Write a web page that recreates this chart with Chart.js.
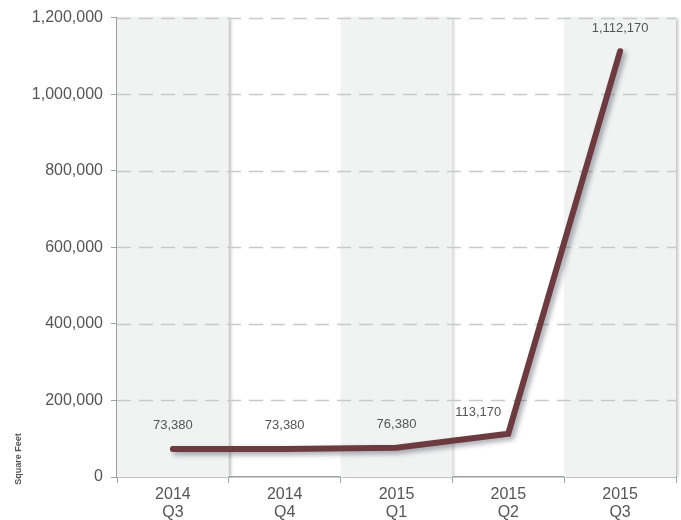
<!DOCTYPE html>
<html>
<head>
<meta charset="utf-8">
<script src="https://cdn.jsdelivr.net/npm/chart.js@4/dist/chart.umd.min.js"></script>
<style>
  html, body { margin: 0; padding: 0; background: #fff; }
  #wrap { width: 681px; height: 520px; position: relative; }
</style>
</head>
<body>
<div id="wrap"><canvas id="sqftChart"></canvas></div>
<script>
const quarters = [["2014", "Q3"], ["2014", "Q4"], ["2015", "Q1"], ["2015", "Q2"], ["2015", "Q3"]];
const squareFeet = [73380, 73380, 76380, 113170, 1112170];
const yTicks = [0, 200000, 400000, 600000, 800000, 1000000, 1200000];

const fmt = (v) => v.toLocaleString("en-US");
const FONT = "'Liberation Sans', Arial, sans-serif";

// alternating grey columns behind the plot
const bandsPlugin = {
  id: "bands",
  beforeDatasetsDraw(chart) {
    const { ctx, chartArea, scales } = chart;
    const x = scales.x;
    const w = x.width / quarters.length;
    ctx.save();
    for (let i = 0; i < quarters.length; i += 2) {
      const left = x.left + i * w;
      ctx.shadowColor = "rgba(0,0,0,0.25)";
      ctx.shadowBlur = 3;
      ctx.shadowOffsetX = 2;
      ctx.fillStyle = "#f1f2f2";
      ctx.fillRect(left, chartArea.top, w, chartArea.bottom - chartArea.top);
    }
    ctx.restore();
    // redraw the dashed grid over the bands
    ctx.save();
    ctx.strokeStyle = "#c9c9c9";
    ctx.lineWidth = 1.5;
    ctx.setLineDash([14, 8]);
    yTicks.slice(1).forEach((t) => {
      const y = Math.round(scales.y.getPixelForValue(t)) + 0.5;
      ctx.beginPath();
      ctx.moveTo(chartArea.left, y);
      ctx.lineTo(chartArea.right, y);
      ctx.stroke();
    });
    ctx.restore();
  },
};

// drop shadow under the line
const shadowPlugin = {
  id: "lineShadow",
  beforeDatasetsDraw(chart) {
    const ctx = chart.ctx;
    ctx.save();
    ctx.shadowColor = "rgba(60,60,80,0.45)";
    ctx.shadowBlur = 5;
    ctx.shadowOffsetX = 3;
    ctx.shadowOffsetY = 3;
  },
  afterDatasetsDraw(chart) {
    chart.ctx.restore();
  },
};

// value labels and axis title
const labelsPlugin = {
  id: "valueLabels",
  afterDraw(chart) {
    const { ctx } = chart;
    const meta = chart.getDatasetMeta(0);
    ctx.save();
    ctx.font = "13px " + FONT;
    ctx.fillStyle = "#555";
    ctx.textBaseline = "middle";
    ctx.textAlign = "center";
    meta.data.forEach((pt, i) => {
      let x = pt.x;
      let y = pt.y - 23;
      if (i === 3) { x = pt.x - 30; y = pt.y - 21; }
      ctx.fillText(fmt(squareFeet[i]), x, y);
    });
    ctx.translate(19, 459);
    ctx.rotate(-Math.PI / 2);
    ctx.font = "bold 9px " + FONT;
    ctx.fillText("Square Feet", 0, 0);
    ctx.restore();
  },
};

const ctx = document.getElementById("sqftChart").getContext("2d");
new Chart(ctx, {
  type: "line",
  data: {
    labels: quarters,
    datasets: [
      {
        label: "Square Feet",
        data: squareFeet,
        borderColor: "#6b3b40",
        borderWidth: 6,
        borderCapStyle: "round",
        borderJoinStyle: "miter",
        tension: 0,
        pointRadius: 0,
        fill: false,
      },
    ],
  },
  plugins: [bandsPlugin, shadowPlugin, labelsPlugin],
  options: {
    responsive: true,
    maintainAspectRatio: false,
    animation: false,
    layout: { padding: { top: 10, right: 5, left: 0, bottom: 0 } },
    plugins: {
      legend: { display: false },
      tooltip: { enabled: false },
    },
    scales: {
      x: {
        offset: true,
        grid: {
          offset: true,
          drawOnChartArea: false,
          drawTicks: true,
          tickLength: 6,
          color: "#a0a0a0",
        },
        border: { color: "#a0a0a0", width: 1.5 },
        ticks: {
          color: "#555",
          font: { size: 16, family: FONT, lineHeight: 1.12 },
          padding: 3,
          maxRotation: 0,
        },
        afterFit(scale) { scale.height = 43; },
      },
      y: {
        min: 0,
        max: 1200000,
        afterBuildTicks(scale) {
          scale.ticks = yTicks.map((v) => ({ value: v }));
        },
        grid: {
          drawOnChartArea: false,
          drawTicks: true,
          tickLength: 6,
          color: "#a0a0a0",
        },
        border: { color: "#a0a0a0", width: 1.5 },
        ticks: {
          color: "#555",
          font: { size: 16, family: FONT },
          padding: 8,
          callback: (v) => fmt(v),
        },
        afterFit(scale) { scale.width = 117; },
      },
    },
  },
});
</script>
</body>
</html>
